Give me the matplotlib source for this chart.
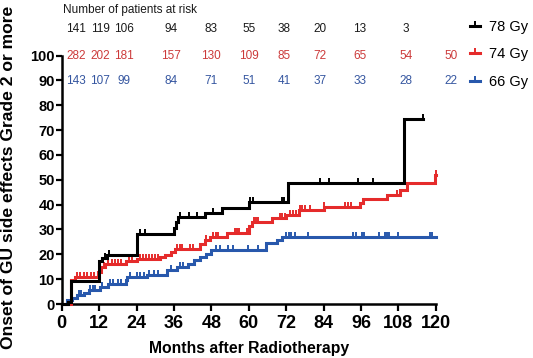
import numpy as np
import matplotlib
matplotlib.use("Agg")
import matplotlib.pyplot as plt
from matplotlib.path import Path
from matplotlib.lines import Line2D

# ---------------- data ----------------
series_labels = ["78 Gy", "74 Gy", "66 Gy"]

t78 = [0, 2, 3, 12, 13, 14.5, 24, 36, 36.6, 37.3, 46, 51.5, 60, 72.5, 109.8]
v78 = [0, 1, 9.3, 17.2, 18.5, 19.6, 28, 30.5, 33, 35, 36.8, 38.8, 41, 48.5, 74.5]
end78 = 115.8
c78 = [14, 15.2, 25, 26.8, 37.8, 40.8, 43.5, 48.5, 60.5, 61.5, 70.6, 71.4,
       83, 85.8, 95, 100, 115.8]

t74 = [0, 3, 4.3, 11.5, 12.5, 14, 20.5, 24, 31.5, 33, 35, 36.5, 44.5, 46, 47.5,
       53, 60, 61, 67.5, 72, 76, 84, 95.8, 96.8, 104.5, 108.5, 110.7, 119.7]
v74 = [0, 9.5, 10.8, 13, 15, 16, 17.2, 18.2, 19, 19.8, 20.8, 22, 24, 25.6, 27,
       28.6, 31.3, 33, 34.8, 36, 37.7, 39, 40.5, 42.4, 44, 46, 48.5, 52]
end74 = 120
c74 = [5, 6, 7, 8, 9.5, 10.3, 13.5, 15, 16, 17, 18, 19, 21.5, 22.5, 25, 26,
       27, 28, 29, 30, 31, 37, 38, 38.6, 41.2, 42.2, 46.2, 48.6, 49.5, 50.3,
       55.6, 56.2, 56.8, 59.3, 61.6, 62.4, 63, 67.4, 70, 70.8, 71.6, 73.4,
       74.3, 75.3, 76.5, 77.2, 78, 79.6, 84, 91, 91.8, 92.7, 104.3, 107.5, 120]

t66 = [0, 1.6, 3.2, 4.8, 7, 8.6, 12.3, 15, 20.5, 21, 27.5, 33.7, 36.9, 40.6,
       42.5, 44.5, 46.3, 48, 65.5, 69, 70.8]
v66 = [0, 1.6, 2.4, 3.6, 4.6, 5.6, 7, 8, 9.6, 11, 11.6, 13.7, 15, 16.3, 17.7,
       19, 20, 21.8, 24.4, 25.7, 27]
end66 = 120
c66 = [5.5, 6.2, 9, 10, 10.6, 13, 15.5, 16.5, 18, 19, 22, 24, 25, 26.5, 28,
       29.5, 31, 35, 38, 39, 49.5, 50.8, 53.4, 55, 59.9, 63.1, 72, 72.8, 73.7,
       74.8, 79, 93.6, 94.3, 96.3, 96.9, 101.8, 103.8, 104.4, 104.9, 107.8,
       118.2, 118.8]

risk_header = "Number of patients at risk"
risk78 = [141, 119, 106, 94, 83, 55, 38, 20, 13, 3]
risk74 = [282, 202, 181, 157, 130, 109, 85, 72, 65, 54, 50]
risk66 = [143, 107, 99, 84, 71, 51, 41, 37, 33, 28, 22]
risk_x = [4.5, 12.3, 20, 35, 48, 60, 71.4, 83, 95.7, 110.5, 125]

x_ticks = list(range(0, 121, 12))
y_ticks = list(range(0, 101, 10))
x_label = "Months after Radiotherapy"
y_label = "Onset of GU side effects Grade 2 or more"

# ---------------- style ----------------
plt.rcParams['font.family'] = ['Liberation Sans', 'DejaVu Sans']
col78, col74, col66 = "#000000", "#e52b2b", "#2858ac"
txt78, txt74, txt66 = "#1a1a1a", "#cc3a3a", "#3556a0"

tick_marker = Path([(0, 0), (0, 1)], [Path.MOVETO, Path.LINETO])

fig = plt.figure(figsize=(5.33, 3.58), dpi=100)
ax = fig.add_axes([0.1158, 0.1508, 0.7017, 0.6941])


def step_val(t, v, x):
    idx = np.searchsorted(np.asarray(t), np.asarray(x), side='right') - 1
    return np.asarray(v)[idx]


def draw(t, v, end, cens, color):
    tt = list(t) + [end]
    vv = list(v) + [v[-1]]
    ax.step(tt, vv, where='post', color=color, lw=2.2, clip_on=False,
            solid_joinstyle='miter', zorder=3)
    cy = step_val(t, v, cens)
    ax.plot(cens, cy, ls='none', marker=tick_marker, ms=6.5, mew=1.4,
            color=color, clip_on=False, zorder=3)


draw(t66, v66, end66, c66, col66)
draw(t74, v74, end74, c74, col74)
draw(t78, v78, end78, c78, col78)

ax.set_xlim(0, 120)
ax.set_ylim(0, 100)
ax.set_xticks(x_ticks)
ax.set_yticks(y_ticks)
for s in ['top', 'right']:
    ax.spines[s].set_visible(False)
for s in ['left', 'bottom']:
    ax.spines[s].set_linewidth(1.8)
ax.tick_params(axis='x', length=5, width=1.6, pad=3, labelsize=13)
ax.tick_params(axis='y', length=4.2, width=1.6, pad=0.8, labelsize=10.5)
for lab in ax.get_xticklabels() + ax.get_yticklabels():
    lab.set_fontweight('bold')

ax.set_xlabel(x_label, fontsize=11.3, fontweight='bold')
ax.set_ylabel(y_label, fontsize=12.6, fontweight='bold')
ax.xaxis.set_label_coords(0.5, -0.148)
ax.yaxis.set_label_coords(-0.123, 0.51)

# number at risk table
ax.text(0.4, 118.5, risk_header, fontsize=8.5, ha='left', va='center',
        color='#1a1a1a', clip_on=False)
for vals, yy, c in [(risk78, 110.5, txt78), (risk74, 100, txt74),
                    (risk66, 89.7, txt66)]:
    for xv, n in zip(risk_x, vals):
        ax.text(xv, yy, str(n), fontsize=8.5, ha='center', va='center',
                color=c, clip_on=False)

# legend
handles = [Line2D([0], [0], color=c, lw=2.2, marker=tick_marker, ms=6.5,
                  mew=1.4) for c in (col78, col74, col66)]
leg = fig.legend(handles, series_labels, loc='center left',
                 bbox_to_anchor=(470 / 533, 1 - 54.5 / 358),
                 frameon=False, fontsize=10.5, handlelength=0.7,
                 handletextpad=0.6, labelspacing=0.91, borderpad=0,
                 borderaxespad=0, numpoints=1)

fig.savefig("out.png", dpi=100)
